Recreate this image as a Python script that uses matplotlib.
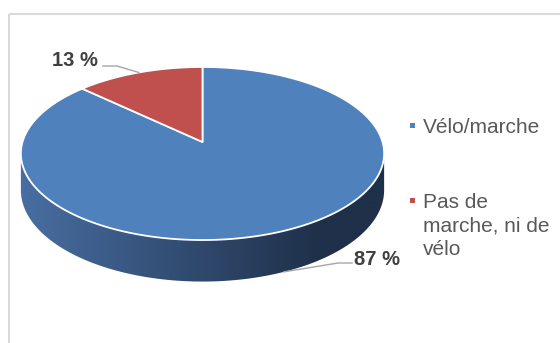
import numpy as np
import matplotlib
matplotlib.use("Agg")
import matplotlib.pyplot as plt
from matplotlib.patches import Polygon, Rectangle
from matplotlib.lines import Line2D

# Data
categories = ["Vélo/marche", "Pas de\nmarche, ni de\nvélo"]
values = [87, 13]
colors = ["#4f81bd", "#c0504d"]

plt.rcParams["font.family"] = ["Liberation Sans", "DejaVu Sans"]

W, H = 560, 343
fig = plt.figure(figsize=(W / 100, H / 100), dpi=100)
ax = fig.add_axes([0, 0, 1, 1])
ax.set_xlim(0, W)
ax.set_ylim(H, 0)
ax.axis("off")

# Chart-area frame (cut at right and bottom)
ax.add_patch(Rectangle((8.5, 13.5), 700, 500, fill=False,
                       edgecolor="#d9d9d9", lw=1.5))

# Perspective disc geometry (pixel space)
cx, cy = 202.5, 142.0
A, B, p = 180.0, 85.0, 0.133
thick = 36.0


def project(theta, depth=0.0):
    x, z = np.cos(theta), np.sin(theta)
    s = 1.0 / (1.0 + p * z)
    return cx + A * x * s, cy - B * z * s + depth * s


# Slice angles: start at 12 o'clock, clockwise
fracs = np.array(values, dtype=float) / np.sum(values)
bounds = np.pi / 2 - 2 * np.pi * np.concatenate([[0], np.cumsum(fracs)])

# Side wall (front half, silhouette to silhouette)
t_l = np.pi + np.arcsin(p)
t_r = 2 * np.pi - np.arcsin(p)
tt = np.linspace(t_l, t_r, 300)
tx, ty = project(tt)
bx, by = project(tt, thick)
side_pts = np.column_stack([np.r_[tx, bx[::-1]], np.r_[ty, by[::-1]]])
side = Polygon(side_pts, closed=True, facecolor="none", edgecolor="none")
ax.add_patch(side)

gx = np.linspace(15, 390, 400)
c0 = np.array([72, 110, 162]) / 255
c1 = np.array([31, 48, 73]) / 255
f = np.clip((gx - 20) / 300.0, 0, 1)[:, None]
grad = (c0 * (1 - f) + c1 * f)[None, :, :]
im = ax.imshow(grad, extent=[15, 390, 290, 130], aspect="auto",
               interpolation="bilinear", zorder=1)
im.set_clip_path(side)

# Top face wedges
for i, col in enumerate(colors):
    a0, a1 = bounds[i], bounds[i + 1]
    th = np.linspace(a0, a1, 300)
    px, py = project(th)
    pts = np.column_stack([np.r_[cx, px], np.r_[cy, py]])
    ax.add_patch(Polygon(pts, closed=True, facecolor=col, edgecolor="white",
                         lw=1.3, joinstyle="round", zorder=2))

# Data labels with leader lines
mids = (bounds[:-1] + bounds[1:]) / 2
label_col = "#404040"
lead_col = "#a6a6a6"

# 87 % (front, leader from lower side edge)
mx, my = project(mids[0], thick)
ax.plot([mx, 338, 352], [my, 263, 263], color=lead_col, lw=1.0, zorder=3)
ax.text(354, 265, f"{values[0]} %", fontsize=14.5, fontweight="bold",
        color=label_col, ha="left", va="baseline", zorder=4)

# 13 % (back, leader from top face)
mx, my = project(mids[1])
ax.plot([mx, 117, 103], [my, 66, 66], color=lead_col, lw=1.0, zorder=3)
ax.text(98, 66.5, f"{values[1]} %", fontsize=14.5, fontweight="bold",
        color=label_col, ha="right", va="baseline", zorder=4)

# Legend
leg_col = "#595959"
leg_first_baseline = [133, 208]
line_step = 23.5
for cat, col, base in zip(categories, colors, leg_first_baseline):
    ax.add_patch(Rectangle((410, base - 10), 5, 5, facecolor=col,
                           edgecolor="none"))
    for k, line in enumerate(cat.split("\n")):
        ax.text(423, base + k * line_step, line, fontsize=15, color=leg_col,
                ha="left", va="baseline")

fig.savefig("out.png", dpi=100, facecolor="white")
